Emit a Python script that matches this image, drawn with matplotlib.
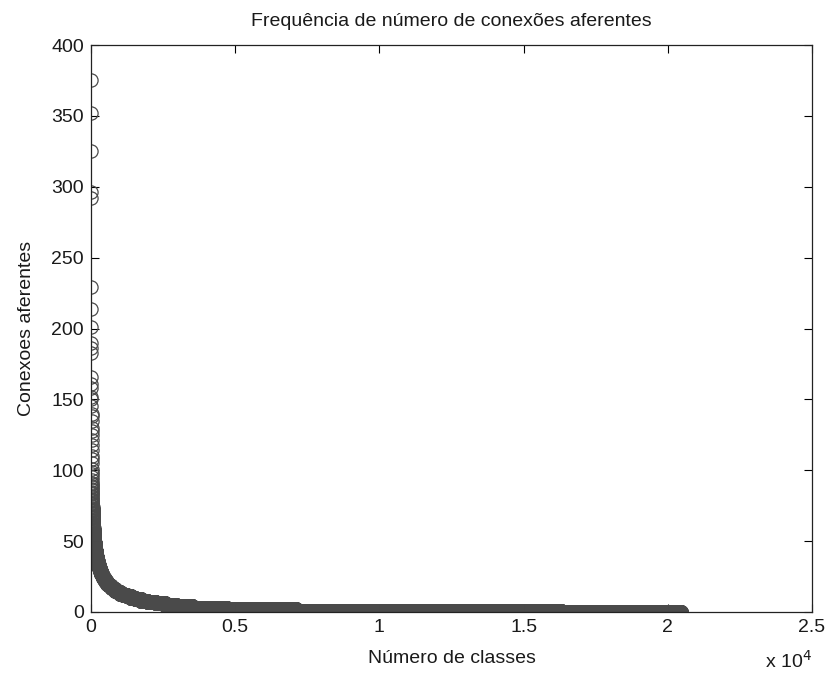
import numpy as np
import matplotlib
matplotlib.use('Agg')
import matplotlib.pyplot as plt

# classes with the largest number of afferent connections (one class each)
top_values = [375, 352, 325, 296, 292, 229, 214, 201, 190, 186, 183, 166,
              161, 158, 152, 150, 145, 140, 138, 135, 130, 128, 125, 121,
              118, 114, 110, 108, 105, 101, 99, 97, 95, 93, 91, 90]

# afferent connections 0..89 and how many classes have each value
degrees = list(range(0, 90))
class_counts = [4150, 9200, 2400, 1200, 550, 400, 320, 280, 230, 190,
                160, 140, 120, 110, 90, 80, 70, 60, 55, 50,
                44, 41, 34, 31, 29, 26, 24, 21, 21, 19,
                18, 16, 15, 14, 12, 12, 11, 10, 10, 9,
                9, 8, 8, 7, 6, 6, 6, 6, 5, 5,
                5, 4, 4, 4, 4, 4, 3, 3, 3, 3,
                3, 3, 3, 2, 2, 2, 2, 2, 2, 2,
                2, 2, 2, 2, 1, 1, 2, 1, 1, 1,
                1, 1, 1, 1, 1, 1, 1, 1, 1, 1]

x_ticks = [0, 5000, 10000, 15000, 20000, 25000]
x_ticklabels = ['0', '0.5', '1', '1.5', '2', '2.5']
y_ticks = [0, 50, 100, 150, 200, 250, 300, 350, 400]

# sorted list of connections per class (descending)
tail = np.repeat(degrees, class_counts)[::-1]
conexoes = np.concatenate([np.array(top_values), tail])
classes = np.arange(1, len(conexoes) + 1)

plt.rcParams['font.family'] = ['Liberation Sans', 'DejaVu Sans']
txt = '#1a1a1a'

fig = plt.figure(figsize=(8.25, 6.79), dpi=100)
ax = fig.add_axes([0.1103, 0.0987, 0.8739, 0.8350])

ax.plot(classes, conexoes, 'o', mfc='none', mec='#4a4a4a', ms=9.5, mew=0.9)

ax.set_xlim(0, 25000)
ax.set_ylim(0, 400)
ax.set_xticks(x_ticks)
ax.set_xticklabels(x_ticklabels)
ax.set_yticks(y_ticks)
ax.tick_params(direction='in', length=6, width=0.8, top=True, right=True,
               labelsize=14, labelcolor=txt, pad=5)
for s in ax.spines.values():
    s.set_linewidth(0.9)
    s.set_color('#222222')

ax.set_title('Frequência de número de conexões aferentes', fontsize=14,
             color=txt, pad=14)
ax.set_xlabel('Número de classes', fontsize=14, color=txt, labelpad=10)
ax.set_ylabel('Conexoes aferentes', fontsize=14, color=txt, labelpad=12)
ax.text(1.0, -0.086, 'x 10$^{4}$', transform=ax.transAxes, ha='right',
        va='center', fontsize=14, color=txt)

fig.savefig('out.png', dpi=100)
